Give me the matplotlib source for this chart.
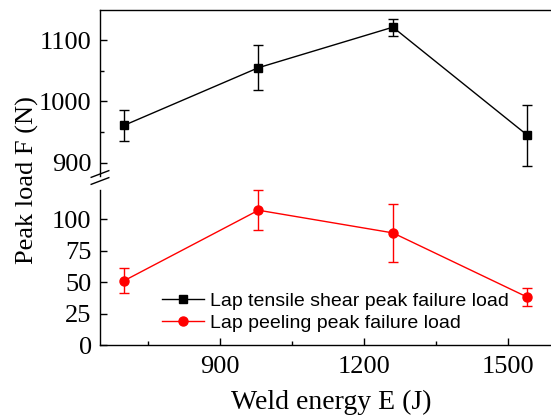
import matplotlib
matplotlib.use("Agg")
import matplotlib.pyplot as plt
from matplotlib.lines import Line2D
from matplotlib.ticker import MultipleLocator

# weld energy (J)
energy = [700, 980, 1260, 1540]

# lap tensile shear peak failure load (N)
shear_load = [961, 1055, 1121, 945]
shear_err = [25, 37, 14, 50]

# lap peeling peak failure load (N)
peel_load = [51, 107, 89, 38]
peel_err = [10, 16, 23, 7]

x_ticks = [900, 1200, 1500]
lo_ticks = [0, 25, 50, 75, 100]
hi_ticks = [900, 1000, 1100]

serif = "Liberation Serif"
sans = "Liberation Sans"

fig = plt.figure(figsize=(5.51, 4.19), dpi=100)
left, right = 100 / 551, 1.005
y_bot, y_brk, y_top = 1 - 345 / 419, 1 - 180 / 419, 1 - 10 / 419
ax_hi = fig.add_axes([left, y_brk, right - left, y_top - y_brk])
ax_lo = fig.add_axes([left, y_bot, right - left, y_brk - y_bot], sharex=ax_hi)

err_kw = dict(capsize=3.5, elinewidth=1.0, capthick=1.0, linewidth=1.0)
ax_hi.errorbar(energy, shear_load, yerr=shear_err, color="black", marker="s",
               markersize=5.5, **err_kw)
ax_lo.errorbar(energy, peel_load, yerr=peel_err, color="red", marker="o",
               markersize=6.5, **err_kw)

ax_hi.set_xlim(650, 1595)
ax_hi.set_ylim(872, 1149)
ax_lo.set_ylim(0, 131)

ax_hi.set_yticks(hi_ticks)
ax_hi.yaxis.set_minor_locator(MultipleLocator(50))
ax_lo.set_yticks(lo_ticks)
ax_lo.set_xticks(x_ticks)
ax_lo.xaxis.set_minor_locator(MultipleLocator(150))

for ax in (ax_hi, ax_lo):
    ax.spines["right"].set_visible(False)
    for s in ax.spines.values():
        s.set_linewidth(1.0)
    ax.tick_params(which="both", direction="in", right=False, top=False, width=1.0)
    ax.tick_params(which="major", length=5)
    ax.tick_params(which="minor", length=3)
    ax.tick_params(axis="y", labelsize=19, pad=6)
    ax.tick_params(axis="x", labelsize=19, pad=8)
    for lab in ax.get_xticklabels() + ax.get_yticklabels():
        lab.set_fontfamily(serif)

ax_hi.spines["bottom"].set_visible(False)
ax_hi.tick_params(axis="x", which="both", bottom=False, labelbottom=False)
ax_lo.spines["top"].set_visible(False)
ax_hi.spines["left"].set_bounds(878, 1149)
ax_lo.spines["left"].set_bounds(0, 123)

# break marks on the left axis
for yy in (1 - 174 / 419, 1 - 181 / 419):
    fig.add_artist(Line2D([left - 0.016, left + 0.016], [yy - 0.008, yy + 0.008],
                          color="black", linewidth=1.0, transform=fig.transFigure))

fig.text(27 / 551, 1 - 180 / 419, "Peak load F (N)", rotation=90, ha="center", va="center",
         fontsize=19, family=serif)
fig.text(331 / 551, 1 - 402 / 419, "Weld energy E (J)", ha="center", va="center",
         fontsize=20, family=serif)

handles = [
    Line2D([], [], color="black", marker="s", markersize=5.5, linewidth=1.0,
           label="Lap tensile shear peak failure load"),
    Line2D([], [], color="red", marker="o", markersize=6.5, linewidth=1.0,
           label="Lap peeling peak failure load"),
]
ax_lo.legend(handles=handles, loc="upper left", bbox_to_anchor=(148 / 551, 1 - 279 / 419),
             bbox_transform=fig.transFigure, frameon=False, prop={"family": sans, "size": 14},
             handlelength=2.2, handletextpad=0.3, labelspacing=0.2, borderpad=0.2)

fig.savefig("out.png", dpi=100)
